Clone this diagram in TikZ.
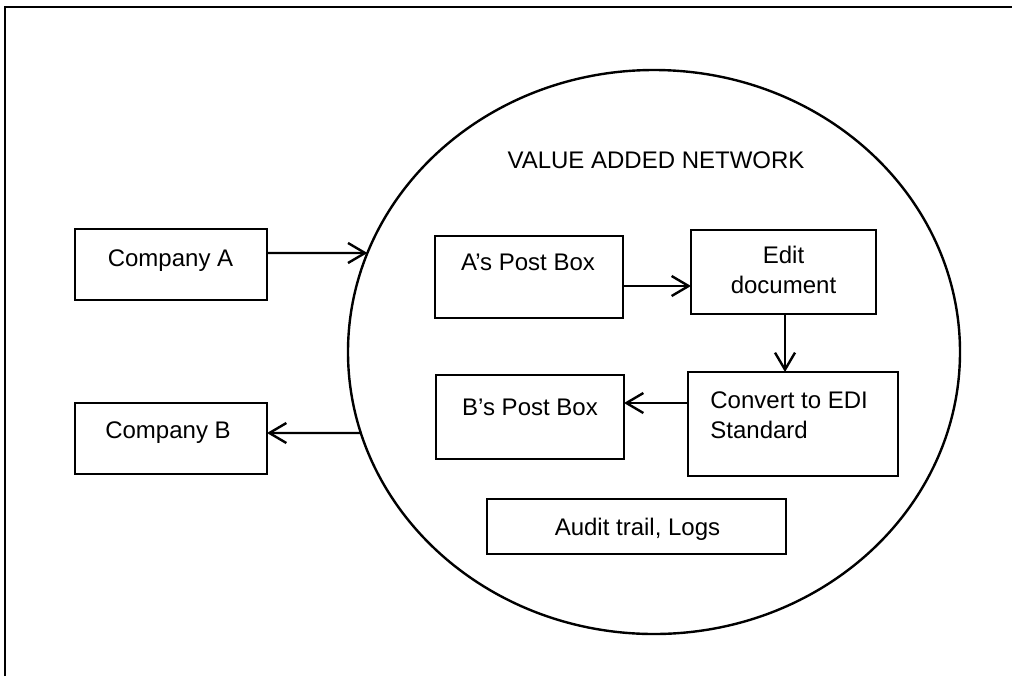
\documentclass[tikz,border=0pt]{standalone}
\usepackage{fontspec}
\setmainfont{Liberation Sans}
\usetikzlibrary{arrows.meta,intersections}
\begin{document}
\begin{tikzpicture}[x=0.5pt,y=-0.5pt,
  box/.style={draw, rectangle, line width=1.4pt, inner sep=0pt, outer sep=0pt},
  lbl/.style={inner sep=0pt, anchor=base, font=\fontsize{12}{15}\selectfont},
  link/.style={line width=1.2pt, -{Straight Barb[length=8.5pt,width=10pt,line width=1.2pt]}},
  ring/.style={line width=1.2pt},
  frame/.style={line width=1.4pt}]
\useasboundingbox (0,0) rectangle (1012,676);

% page frame (left and top edges)
\draw[frame] (5,676) -- (5,7) -- (1012,7);

% the network
\draw[ring, name path=ring] (654,352) ellipse [x radius=306, y radius=282];
\node[lbl] (title) at (656,168) {VALUE ADDED NETWORK};

% companies outside the network
\node[box, minimum width=96pt, minimum height=35.5pt] (ca) at (171,264.5) {};
\node[lbl] (ca-t) at (170.5,266) {Company A};
\node[box, minimum width=96pt, minimum height=35.5pt] (cb) at (171,438.5) {};
\node[lbl] (cb-t) at (168,438) {Company B};

% boxes inside the network (multi-line labels sit on their last baseline)
\node[box, minimum width=94pt, minimum height=41pt] (pa) at (529,277) {};
\node[lbl] (pa-t) at (528,270) {A's Post Box};
\node[box, minimum width=92.5pt, minimum height=42pt] (ed) at (783.5,272) {};
\node[lbl, align=center] (ed-t) at (783.5,293) {Edit\\document};
\node[box, minimum width=105pt, minimum height=52pt] (cv) at (793,424) {};
\node[lbl, align=left, anchor=base west] (cv-t) at (710,438) {Convert to EDI\\Standard};
\node[box, minimum width=94pt, minimum height=42pt] (pb) at (530,417) {};
\node[lbl] (pb-t) at (530,415) {B's Post Box};
\node[box, minimum width=149.5pt, minimum height=27.5pt] (au) at (636.5,526.5) {};
\node[lbl] (au-t) at (637.5,535) {Audit trail, Logs};

% rows and columns the connectors run along
\coordinate (rowA) at (0,253);
\coordinate (rowB) at (0,433);
\coordinate (rowE) at (0,286);
\coordinate (rowC) at (0,403);
\coordinate (colD) at (785,0);

\path[name path=lineA] (ca.east |- rowA) -- (520,253);
\path[name path=lineB] (cb.east |- rowB) -- (520,433);
\path[name intersections={of=ring and lineA, by={inA}}];
\path[name intersections={of=ring and lineB, by={outB}}];

% connectors
\draw[link] (ca.east |- rowA) -- (inA);
\draw[link] (outB) -- (cb.east |- rowB);
\draw[link] (pa.east |- rowE) -- (ed.west |- rowE);
\draw[link] (ed.south -| colD) -- (cv.north -| colD);
\draw[link] (cv.west |- rowC) -- (pb.east |- rowC);
\end{tikzpicture}
\end{document}
